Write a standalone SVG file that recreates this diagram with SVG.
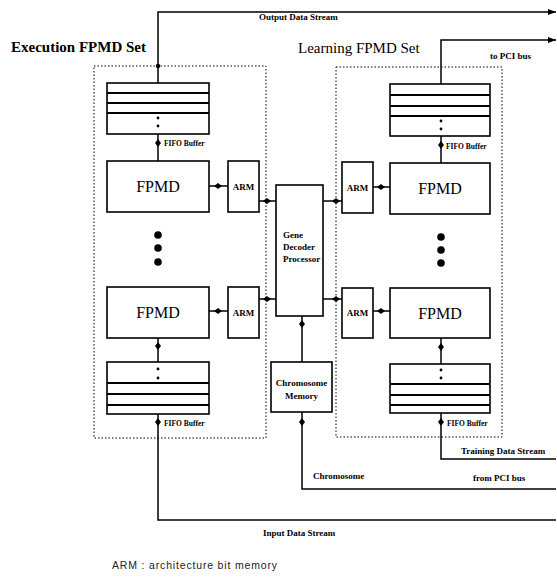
<svg xmlns="http://www.w3.org/2000/svg" width="557" height="588" viewBox="0 0 557 588">
<defs>
<style>
.box{fill:#fff;stroke:#000;stroke-width:1.6}
.set{fill:none;stroke:#000;stroke-width:1;stroke-dasharray:1.5 2}
.ln{fill:none;stroke:#000;stroke-width:1.5}
.slot{stroke:#000;stroke-width:2}
.big{font-family:"Liberation Serif",serif;font-size:16px;text-anchor:middle}
.title{font-family:"Liberation Serif",serif;font-size:15px}
.sm{font-family:"Liberation Serif",serif;font-size:9px;font-weight:bold}
.tiny{font-family:"Liberation Serif",serif;font-size:7.5px;font-weight:bold}
.arm{font-family:"Liberation Serif",serif;font-size:9px;font-weight:bold;text-anchor:middle}
.note{font-family:"Liberation Sans",sans-serif;font-size:10.5px;fill:#222}
</style>
<marker id="blob" viewBox="0 0 8 6" refX="4" refY="3" markerWidth="8" markerHeight="6" markerUnits="userSpaceOnUse" orient="auto">
<path d="M0,3 L4,0 L8,3 L4,6 Z" fill="#000"/>
</marker>
<marker id="arr" viewBox="0 0 8 6" refX="8" refY="3" markerWidth="8" markerHeight="6" markerUnits="userSpaceOnUse" orient="auto">
<path d="M0,0 L8,3 L0,6 Z" fill="#000"/>
</marker>
</defs>
<rect width="557" height="588" fill="#fff"/>

<g id="exec-set">
<rect class="set" x="94" y="66" width="172" height="372"/>
<text class="title" x="11" y="52" font-weight="bold">Execution FPMD Set</text>
</g>
<g id="learn-set">
<rect class="set" x="336" y="67" width="166" height="370"/>
<text class="title" x="298" y="53">Learning FPMD Set</text>
</g>

<g id="connectors">
<path class="ln" d="M158,83 L158,12 L556,12" marker-end="url(#arr)"/>
<circle cx="158" cy="66" r="2.2"/>
<path class="ln" d="M441,84 L441,40 L556,40" marker-end="url(#arr)"/>
<path class="ln" d="M158,134 L158,143 L158,161" marker-mid="url(#blob)"/>
<path class="ln" d="M209,186 L218,186 L228,186" marker-mid="url(#blob)"/>
<path class="ln" d="M209,311 L218,311 L228,311" marker-mid="url(#blob)"/>
<path class="ln" d="M259,201 L267,201 L276,201" marker-mid="url(#blob)"/>
<path class="ln" d="M259,299 L267,299 L276,299" marker-mid="url(#blob)"/>
<path class="ln" d="M323,201 L336,201 L342,201" marker-mid="url(#blob)"/>
<path class="ln" d="M323,299 L336,299 L342,299" marker-mid="url(#blob)"/>
<path class="ln" d="M373,187 L381,187 L390,187" marker-mid="url(#blob)"/>
<path class="ln" d="M373,311 L381,311 L390,311" marker-mid="url(#blob)"/>
<path class="ln" d="M441,136 L441,145 L441,163" marker-mid="url(#blob)"/>
<path class="ln" d="M158,338 L158,346 L158,362" marker-mid="url(#blob)"/>
<path class="ln" d="M441,338 L441,347 L441,364" marker-mid="url(#blob)"/>
<path class="ln" d="M158,414 L158,422 L158,430" marker-mid="url(#blob)"/>
<path class="ln" d="M158,430 L158,520 L556,520"/>
<path class="ln" d="M441,413 L441,422 L441,430" marker-mid="url(#blob)"/>
<path class="ln" d="M441,430 L441,459 L556,459"/>
<path class="ln" d="M302,316 L302,324 L302,362" marker-mid="url(#blob)"/>
<path class="ln" d="M302,412 L302,422 L302,430" marker-mid="url(#blob)"/>
<path class="ln" d="M302,430 L302,489 L556,489"/>
<text class="sm" x="259" y="20">Output Data Stream</text>
<text class="sm" x="490" y="59" font-size="10.5" font-weight="normal">to PCI bus</text>
<text class="tiny" x="164" y="146">FIFO Buffer</text>
<text class="tiny" x="446" y="149">FIFO Buffer</text>
<text class="tiny" x="164" y="426">FIFO Buffer</text>
<text class="tiny" x="447" y="426">FIFO Buffer</text>
<text class="sm" x="461" y="454">Training Data Stream</text>
<text class="sm" x="473" y="481" font-size="11.5" font-weight="normal">from PCI bus</text>
<text class="sm" x="313" y="479">Chromosome</text>
<text class="sm" x="263" y="536">Input Data Stream</text>
</g>

<g id="fifo-exec-top">
<rect class="box" x="107" y="83" width="102" height="51"/>
<line class="slot" x1="107" y1="93" x2="209" y2="93"/>
<line class="slot" x1="107" y1="103" x2="209" y2="103"/>
<line class="slot" x1="107" y1="113" x2="209" y2="113"/>
<circle cx="158" cy="118" r="1.4"/><circle cx="158" cy="126" r="1.4"/>
</g>
<g id="fpmd-exec-1">
<rect class="box" x="107" y="161" width="102" height="51"/>
<text class="big" x="158" y="192">FPMD</text>
</g>
<g id="arm-exec-1">
<rect class="box" x="228" y="161" width="31" height="51"/>
<text class="arm" x="243.5" y="190">ARM</text>
</g>
<g id="dots-exec">
<circle cx="158" cy="235" r="3.8"/><circle cx="158" cy="248" r="3.8"/><circle cx="158" cy="262" r="3.8"/>
</g>
<g id="fpmd-exec-2">
<rect class="box" x="107" y="287" width="102" height="51"/>
<text class="big" x="158" y="318">FPMD</text>
</g>
<g id="arm-exec-2">
<rect class="box" x="228" y="287" width="31" height="51"/>
<text class="arm" x="243.5" y="316">ARM</text>
</g>
<g id="fifo-exec-bottom">
<rect class="box" x="107" y="362" width="102" height="52"/>
<circle cx="158" cy="369" r="1.4"/><circle cx="158" cy="378" r="1.4"/>
<line class="slot" x1="107" y1="383" x2="209" y2="383"/>
<line class="slot" x1="107" y1="394" x2="209" y2="394"/>
<line class="slot" x1="107" y1="405" x2="209" y2="405"/>
</g>

<g id="processor">
<rect class="box" x="276" y="185" width="47" height="131"/>
<text class="sm" x="283" y="238" font-size="8.5">Gene</text>
<text class="sm" x="283" y="250" font-size="8.5">Decoder</text>
<text class="sm" x="283" y="262" font-size="8.5">Processor</text>
</g>
<g id="chromosome-memory">
<rect class="box" x="271" y="362" width="61" height="50"/>
<text class="sm" x="301.5" y="386" text-anchor="middle">Chromosome</text>
<text class="sm" x="301.5" y="399" text-anchor="middle">Memory</text>
</g>

<g id="fifo-learn-top">
<rect class="box" x="390" y="84" width="100" height="52"/>
<line class="slot" x1="390" y1="95" x2="490" y2="95"/>
<line class="slot" x1="390" y1="106" x2="490" y2="106"/>
<line class="slot" x1="390" y1="116" x2="490" y2="116"/>
<circle cx="441" cy="121" r="1.4"/><circle cx="441" cy="129" r="1.4"/>
</g>
<g id="arm-learn-1">
<rect class="box" x="342" y="162" width="31" height="51"/>
<text class="arm" x="357.5" y="191">ARM</text>
</g>
<g id="fpmd-learn-1">
<rect class="box" x="390" y="163" width="100" height="51"/>
<text class="big" x="440" y="194">FPMD</text>
</g>
<g id="dots-learn">
<circle cx="441" cy="237" r="3.8"/><circle cx="441" cy="250" r="3.8"/><circle cx="441" cy="263" r="3.8"/>
</g>
<g id="arm-learn-2">
<rect class="box" x="342" y="288" width="31" height="50"/>
<text class="arm" x="357.5" y="316">ARM</text>
</g>
<g id="fpmd-learn-2">
<rect class="box" x="390" y="288" width="100" height="50"/>
<text class="big" x="440" y="319">FPMD</text>
</g>
<g id="fifo-learn-bottom">
<rect class="box" x="390" y="364" width="100" height="49"/>
<circle cx="441" cy="370" r="1.4"/><circle cx="441" cy="378" r="1.4"/>
<line class="slot" x1="390" y1="384" x2="490" y2="384"/>
<line class="slot" x1="390" y1="395" x2="490" y2="395"/>
<line class="slot" x1="390" y1="405" x2="490" y2="405"/>
</g>

<text class="note" x="112" y="569" textLength="165" lengthAdjust="spacing">ARM  :  architecture  bit  memory</text>
</svg>
